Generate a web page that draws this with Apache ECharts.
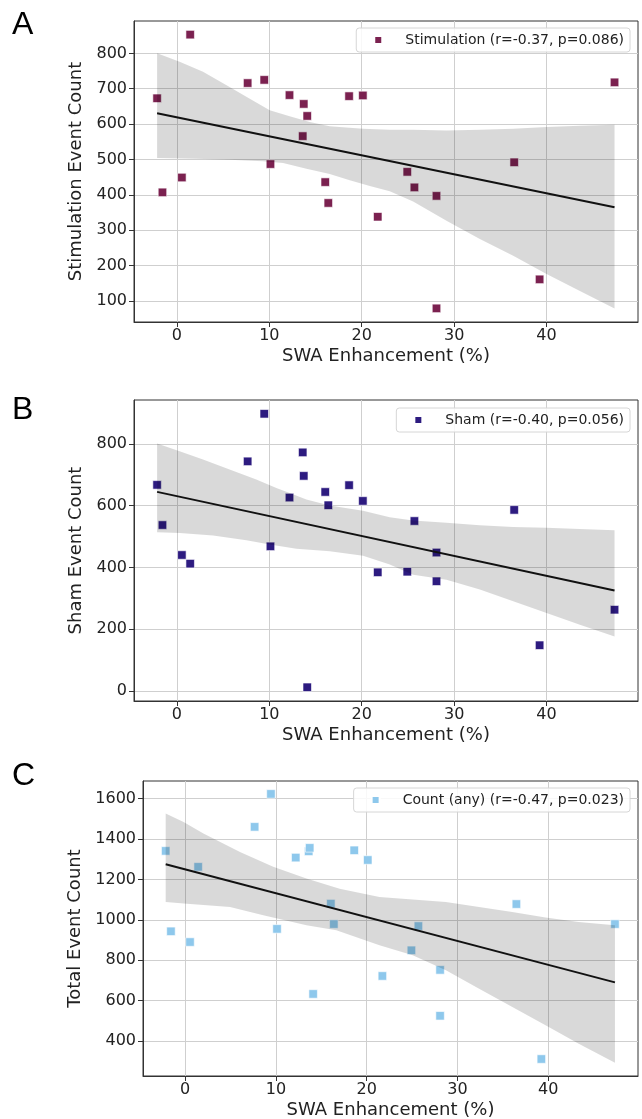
<!DOCTYPE html>
<html>
<head>
<meta charset="utf-8">
<script src="https://cdn.jsdelivr.net/npm/echarts@6/dist/echarts.min.js"></script>
<style>
html,body{margin:0;padding:0;background:#fff;}
#chart{width:642px;height:1119px;}
</style>
</head>
<body>
<div id="chart"></div>
<script>
// ---------- data ----------
const swa = [-2.15, -1.57, 0.53, 1.43, 7.65, 9.45, 10.12, 12.18, 13.61, 13.72, 14.10, 16.05, 16.38, 18.63, 20.12, 21.73, 24.93, 25.70, 28.09, 28.09, 36.50, 39.25, 47.36];
const stimCount = [673, 407, 449, 853, 716, 725, 487, 682, 566, 657, 623, 436, 377, 679, 681, 338, 465, 421, 397, 79, 492, 161, 718];
const shamCount = [667, 537, 440, 412, 743, 897, 468, 626, 772, 696, 12, 644, 601, 666, 615, 384, 386, 550, 355, 448, 586, 148, 263];
const totalCount = [1341, 943, 890, 1262, 1460, 1623, 955, 1308, 1339, 1356, 633, 1080, 979, 1344, 1296, 722, 849, 969, 752, 525, 1078, 311, 979];

const seriesNames = ['Stimulation (r=-0.37, p=0.086)', 'Sham (r=-0.40, p=0.056)', 'Count (any) (r=-0.47, p=0.023)'];
const yTitles = ['Stimulation Event Count', 'Sham Event Count', 'Total Event Count'];
const xTitle = 'SWA Enhancement (%)';
const panelLetters = ['A', 'B', 'C'];

// fitted regression line ends [x, y]
const fitStim = [[-2.15, 630.7], [47.36, 364.8]];
const fitSham = [[-2.15, 644.3], [47.36, 325.4]];
const fitTotal = [[-2.15, 1274.8], [47.36, 690.5]];

// confidence band edges [x, y]
const bandStimUpper = [[-2.15,800],[0.29,776],[2.82,748],[5.70,705],[7.51,677],[10.04,639],[12.20,622],[14.37,606],[16.53,594],[20.14,587],[23.03,584],[25.56,584],[29.17,582],[32.78,584],[36.39,587],[40.00,592],[43.61,595],[47.36,598]];
const bandStimLower = [[-2.15,504],[2.09,502],[5.70,499],[9.31,495],[11.48,490],[14.01,474],[16.53,459],[18.70,441],[20.87,425],[23.03,410],[25.56,381],[29.17,327],[32.78,275],[36.39,228],[40.00,176],[43.61,128],[47.36,79]];
const bandShamUpper = [[-2.15,801],[0.29,776],[2.82,749],[5.70,717],[8.59,684],[10.76,657],[12.20,641],[14.01,620],[16.53,600],[20.14,583],[23.03,562],[25.56,552],[29.17,544],[32.78,536],[36.39,531],[40.00,528],[43.61,524],[47.36,520]];
const bandShamLower = [[-2.15,514],[0.29,511],[3.90,503],[7.51,488],[10.04,474],[12.92,460],[16.53,452],[20.14,438],[23.03,409],[25.56,376],[29.17,360],[32.78,328],[36.39,290],[40.00,252],[43.61,214],[47.36,176]];
const bandTotalUpper = [[-2.15,1526],[-0.18,1484],[2.01,1427],[6.04,1336],[9.70,1262],[13.36,1204],[17.02,1154],[21.41,1113],[25.07,1100],[28.73,1088],[32.39,1064],[36.05,1039],[39.71,1011],[43.37,989],[47.36,973]];
const bandTotalLower = [[-2.15,1088],[0.18,1080],[4.94,1064],[8.60,1022],[13.36,973],[16.65,948],[21.41,874],[25.07,824],[28.73,750],[32.39,659],[36.05,568],[39.71,478],[43.37,387],[47.36,293]];

// axis ticks and ranges
const xTicks = [0, 10, 20, 30, 40];
const yTicksStim = [100, 200, 300, 400, 500, 600, 700, 800];
const yTicksSham = [0, 200, 400, 600, 800];
const yTicksTotal = [400, 600, 800, 1000, 1200, 1400, 1600];
const xRange = [-4.65, 49.9];
const yRangeStim = [40.5, 891.5];
const yRangeSham = [-32.4, 941.6];
const yRangeTotal = [227, 1687];

// ---------- chart ----------
const colors = ['#7b2150', '#2d1b80', '#8ec8ec'];
const grids = [
  {left: 134, top: 21, width: 504, height: 301},
  {left: 134, top: 400, width: 504, height: 301},
  {left: 143, top: 781, width: 495, height: 295}
];
const yTickSets = [yTicksStim, yTicksSham, yTicksTotal];
const yRanges = [yRangeStim, yRangeSham, yRangeTotal];
const ys = [stimCount, shamCount, totalCount];
const fits = [fitStim, fitSham, fitTotal];
const bands = [[bandStimUpper, bandStimLower], [bandShamUpper, bandShamLower], [bandTotalUpper, bandTotalLower]];
const legendTops = [28, 408, 788];
const letterTops = [9, 394, 760];
const FONT = 'DejaVu Sans';
const plain = v => String(Math.round(v));

const option = {
  animation: false,
  backgroundColor: '#ffffff',
  grid: grids.map(g => Object.assign({outerBoundsMode: 'none', containLabel: false, show: true,
    borderColor: '#333', borderWidth: 1, backgroundColor: 'transparent'}, g)),
  xAxis: [0,1,2].map(i => ({
    type: 'value', gridIndex: i, min: xRange[0], max: xRange[1],
    name: xTitle, nameLocation: 'middle', nameGap: 25,
    nameTextStyle: {fontFamily: FONT, fontSize: 18, color: '#222'},
    axisLine: {show: true, onZero: false, lineStyle: {color: '#333', width: 1}},
    axisTick: {show: true, length: 5, customValues: xTicks, lineStyle: {color: '#333'}},
    axisLabel: {customValues: xTicks, margin: 6, fontFamily: FONT, fontSize: 16, color: '#222', formatter: plain},
    splitLine: {show: true, lineStyle: {color: '#cfcfcf', width: 1}}
  })),
  yAxis: [0,1,2].map(i => ({
    type: 'value', gridIndex: i, min: yRanges[i][0], max: yRanges[i][1],
    name: yTitles[i], nameLocation: 'middle', nameGap: i === 2 ? 44 : 35,
    nameTextStyle: {fontFamily: FONT, fontSize: 18, color: '#222'},
    axisLine: {show: true, onZero: false, lineStyle: {color: '#333', width: 1}},
    axisTick: {show: true, length: 5, customValues: yTickSets[i], lineStyle: {color: '#333'}},
    axisLabel: {customValues: yTickSets[i], margin: 7, fontFamily: FONT, fontSize: 16, color: '#222', formatter: plain},
    splitLine: {show: true, lineStyle: {color: '#cfcfcf', width: 1}}
  })),
  legend: [0,1,2].map(i => ({
    data: [seriesNames[i]], right: 12, top: legendTops[i],
    icon: 'rect', itemWidth: 8, itemHeight: 8,
    padding: [5, 6, 5, 17],
    backgroundColor: 'rgba(255,255,255,0.85)', borderColor: '#d6d6d6', borderWidth: 1, borderRadius: 3,
    textStyle: {fontFamily: FONT, fontSize: 14, color: '#222', padding: [0, 0, 0, 18]}
  })),
  title: panelLetters.map((t, i) => ({
    text: t, left: 12, top: letterTops[i], padding: 0,
    textStyle: {fontFamily: 'Liberation Sans', fontSize: 32, fontWeight: 'normal', color: '#000'}
  })),
  series: []
};

for (let i = 0; i < 3; i++) {
  option.series.push({
    type: 'scatter', name: seriesNames[i], xAxisIndex: i, yAxisIndex: i, z: 2,
    symbol: 'rect', symbolSize: 8.5,
    itemStyle: {color: colors[i], opacity: 1, borderColor: '#ffffff', borderWidth: 0.6},
    data: swa.map((x, k) => [x, ys[i][k]])
  });
  const up = bands[i][0], lo = bands[i][1];
  option.series.push({
    type: 'custom', xAxisIndex: i, yAxisIndex: i, z: 3, silent: true,
    data: [up[0]],
    renderItem: function (params, api) {
      const pts = up.map(p => api.coord(p));
      for (let k = lo.length - 1; k >= 0; k--) pts.push(api.coord(lo[k]));
      return {type: 'polygon', shape: {points: pts}, style: {fill: 'rgba(0,0,0,0.15)'}};
    }
  });
  option.series.push({
    type: 'line', xAxisIndex: i, yAxisIndex: i, z: 4, silent: true,
    showSymbol: false, symbol: 'none',
    lineStyle: {color: '#111', width: 2},
    data: fits[i]
  });
}

const chart = echarts.init(document.getElementById('chart'), null, {renderer: 'canvas'});
chart.setOption(option);
</script>
</body>
</html>
